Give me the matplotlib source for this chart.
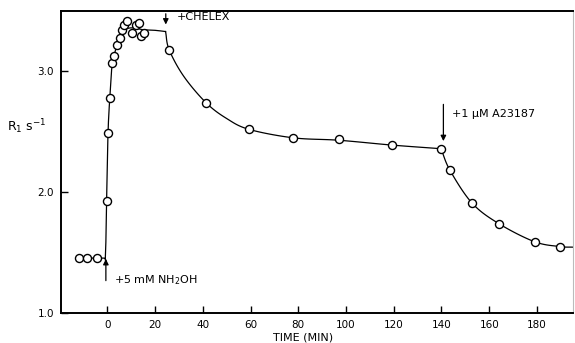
import matplotlib
matplotlib.use("Agg")
import matplotlib.pyplot as plt
import numpy as np

# --- dados ---
# pontos medidos (R1 em s^-1 vs tempo em min)
t_pre = [-11.7, -8.4, -4.3]
r_pre = [1.455, 1.455, 1.455]

t_rise = [-0.3, 0.3, 1.2, 2.0, 2.8, 4.1, 5.4, 6.2, 7.0, 8.3, 10.4, 12.1, 13.3, 14.2, 15.4]
r_rise = [1.93, 2.49, 2.78, 3.07, 3.13, 3.22, 3.28, 3.34, 3.38, 3.42, 3.32, 3.38, 3.40, 3.29, 3.32]

t_chelex = [25.9, 41.4, 59.4, 78.0, 97.0, 119.3, 139.8]
r_chelex = [3.18, 2.74, 2.52, 2.45, 2.44, 2.39, 2.36]

t_a23 = [143.6, 152.8, 164.0, 179.0, 189.7]
r_a23 = [2.18, 1.91, 1.74, 1.59, 1.55]

# curva ajustada (desenhada a mao no original)
curve_a_t = [-13.0, -1.8, -0.8, -0.3, 0.3, 1.1, 2.0, 3.5, 5.5, 8.0, 11.0, 15.0, 20.0, 24.4]
curve_a_r = [1.455, 1.455, 1.47, 1.93, 2.49, 2.80, 3.05, 3.18, 3.29, 3.35, 3.36, 3.345, 3.34, 3.33]
curve_b_t = [24.4, 25.9, 32.0, 41.4, 50.0, 59.4, 78.0, 97.0, 119.3, 139.8]
curve_b_r = [3.33, 3.18, 2.96, 2.74, 2.61, 2.52, 2.45, 2.43, 2.39, 2.36]
curve_c_t = [139.8, 143.6, 152.8, 164.0, 179.0, 189.7, 195.0]
curve_c_r = [2.36, 2.18, 1.91, 1.74, 1.59, 1.55, 1.545]

x_ticks = [0, 20, 40, 60, 80, 100, 120, 140, 160, 180]
y_ticks = [1.0, 2.0, 3.0]
y_ticklabels = ["1.0", "2.0", "3.0"]


def suavizar(xs, ys, n=12):
    # Catmull-Rom simples so para o traco da curva
    p = np.column_stack([xs, ys]).astype(float)
    p = np.vstack([p[0] * 2 - p[1], p, p[-1] * 2 - p[-2]])
    out = []
    for i in range(1, len(p) - 2):
        p0, p1, p2, p3 = p[i - 1], p[i], p[i + 1], p[i + 2]
        for s in np.linspace(0, 1, n, endpoint=False):
            out.append(0.5 * ((2 * p1) + (-p0 + p2) * s
                              + (2 * p0 - 5 * p1 + 4 * p2 - p3) * s ** 2
                              + (-p0 + 3 * p1 - 3 * p2 + p3) * s ** 3))
    out.append(p[-2])
    out = np.array(out)
    return out[:, 0], out[:, 1]


fig = plt.figure(figsize=(5.75, 3.43), dpi=100)
ax = fig.add_axes([61 / 575, 30 / 343, 512 / 575, 302 / 343])

for ct, cr in [(curve_a_t, curve_a_r), (curve_b_t, curve_b_r), (curve_c_t, curve_c_r)]:
    sx, sy = suavizar(ct, cr)
    ax.plot(sx, sy, color="black", lw=0.9, zorder=1)

mk = dict(ls="none", marker="o", ms=5.8, mfc="white", mec="black", mew=1.0, zorder=3)
ax.plot(t_pre, r_pre, **mk)
ax.plot(t_rise, r_rise, **mk)
ax.plot(t_chelex, r_chelex, **mk)
ax.plot(t_a23, r_a23, **mk)

# --- setas das adicoes ---
seta = dict(arrowstyle="-|>", color="black", lw=0.9, mutation_scale=8)
ax.annotate("", xy=(24.5, 3.365), xytext=(24.5, 3.5), arrowprops=seta)
ax.text(29.0, 3.45, "+CHELEX", fontsize=8, va="center", ha="left")

ax.annotate("", xy=(140.8, 2.40), xytext=(140.8, 2.75), arrowprops=seta)
ax.text(144.5, 2.65, "+1 \u03bcM A23187", fontsize=8, va="center", ha="left")

ax.annotate("", xy=(-0.6, 1.47), xytext=(-0.6, 1.245), arrowprops=seta)
ax.text(3.0, 1.27, "+5 mM NH$_2$OH", fontsize=8, va="center", ha="left")

# --- eixos ---
ax.set_xlim(-19.4, 195.1)
ax.set_ylim(1.0, 3.5)
ax.set_xticks(x_ticks)
ax.set_yticks(y_ticks)
ax.set_yticklabels(y_ticklabels)
ax.tick_params(direction="in", length=5, width=1, labelsize=7.5, pad=5)
for s in ["left", "bottom", "top"]:
    ax.spines[s].set_linewidth(1.4)
ax.spines["right"].set_color("#bbbbbb")
ax.spines["right"].set_linewidth(0.8)

fig.text(27 / 575, 1 - 127 / 343, "R$_1$ s$^{-1}$", fontsize=9, ha="center", va="center")
fig.text(303 / 575, 1 - 337 / 343, "TIME (MIN)", fontsize=8, ha="center", va="center")

fig.savefig("out.png", dpi=100)
